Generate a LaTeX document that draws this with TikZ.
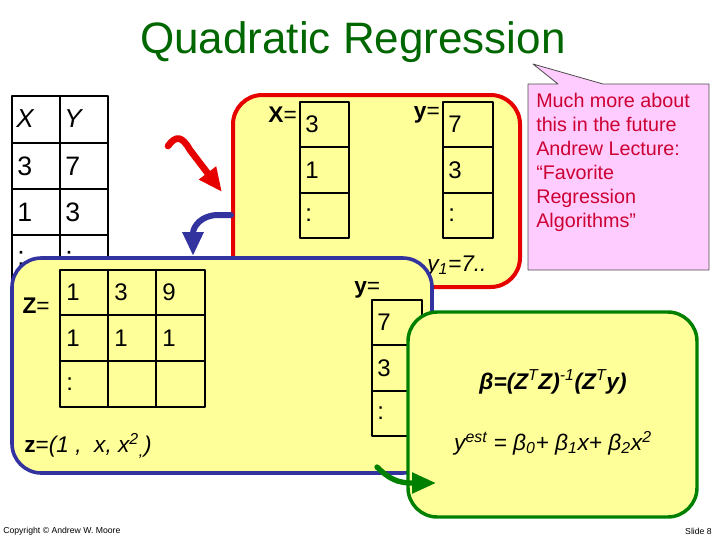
\documentclass[tikz,border=0pt]{standalone}
\usepackage{fontspec}
\setmainfont{Liberation Sans}
\usetikzlibrary{arrows.meta,fit}
\definecolor{padyellow}{RGB}{255,255,153}
\definecolor{titlegreen}{RGB}{0,102,0}
\definecolor{boxgreen}{RGB}{0,128,0}
\definecolor{boxblue}{RGB}{51,51,160}
\definecolor{boxred}{RGB}{230,0,0}
\definecolor{notepink}{RGB}{255,204,255}
\definecolor{notered}{RGB}{204,0,51}
\newcommand{\fs}[1]{\fontsize{#1}{1.2\dimexpr#1pt\relax}\selectfont}
\begin{document}
\begin{tikzpicture}[x=.75pt, y=-.75pt, line join=round, line cap=round,
	box/.style={rounded corners=22pt, fill=padyellow, inner sep=0pt},
	grid/.style={line width=2.2pt, line cap=rect},
	cell/.style={anchor=west, inner sep=0pt, font=\fs{18}},
	lbl/.style={inner sep=0pt, font=\fs{17}},
	bigarrow/.style={line width=#1, -{Triangle[length=18pt,width=15pt]}}]
	\useasboundingbox (0,0) rectangle (720,540);
	\node[text=titlegreen, font=\fs{33}] (title) at (353,42) {Quadratic Regression};
	%% data table
	\draw[grid] (12,282) |- (108,96) -- (108,282) (60,96) -- (60,282)
	(12,143) -- (108,143) (12,189) -- (108,189) (12,235) -- (108,235);
	\node[cell, font=\fs{19.5}\itshape] (hx) at (16,119) {X};
	\node[cell, font=\fs{19.5}\itshape] (hy) at (64,119) {Y};
	\foreach \a/\b [count=\r] in {3/7, 1/3, :/:} {
		\node[cell, font=\fs{20}] (tx\r) at (17,{120+46.3*\r}) {\a};
		\node[cell, font=\fs{20}] (ty\r) at (65,{120+46.3*\r}) {\b};
	}
	%% red box
	\node[box, draw=boxred, line width=3pt, fit={(233,95) (520,287)}] (xbox) {};
	\node[lbl, anchor=east] (xeq) at (297,115) {\textbf{X}=};
	\node[lbl, anchor=east] (yeq) at (440,115) {\textbf{y}=};
	\draw[grid] (300,102) rectangle (349,238) (300,147) -- (349,147) (300,193) -- (349,193);
	\draw[grid] (443,102) rectangle (493,238) (443,147) -- (493,147) (443,193) -- (493,193);
	\foreach \a/\b [count=\r] in {3/7, 1/3, :/:} {
		\node[cell] (xv\r) at (305,{124.5+45.3*(\r-1)}) {\a};
		\node[cell] (yv\r) at (448,{124.5+45.3*(\r-1)}) {\b};
	}
	\node[lbl, anchor=west, font=\fs{17}\itshape] (yone) at (427,266) {y\textsubscript{1}=7..};
	\coordinate (redtail) at (168,146);
	\coordinate (redtip) at (222,192);
	\draw[boxred, bigarrow=5pt] (redtail) .. controls (176,135) and (182,136) .. (190,150) -- (redtip);
	%% blue box
	\node[box, draw=boxblue, line width=2.7pt, fit={(12,258) (432,473)}] (zbox) {};
	\node[lbl, anchor=east] (zeq) at (50,306) {\textbf{Z}=};
	\draw[grid] (60,270) rectangle (205,407) (108,270) -- (108,407) (156,270) -- (156,407)
	(60,315) -- (205,315) (60,361) -- (205,361);
	\foreach \a/\b/\c [count=\r] in {1/3/9, 1/1/1} {
		\node[cell] (za\r) at (66,{292.5+45.5*(\r-1)}) {\a};
		\node[cell] (zb\r) at (114,{292.5+45.5*(\r-1)}) {\b};
		\node[cell] (zc\r) at (162,{292.5+45.5*(\r-1)}) {\c};
	}
	\node[cell] (za3) at (66,384) {:};
	\node[lbl, anchor=west] (zdef) at (24,446) {\textbf{z}=\textit{(1 ,\ \ x, x\textsuperscript{2}\textsubscript{,})}};
	\node[lbl, anchor=west] (yeqb) at (354,290) {\textbf{y}=};
	\draw[grid] (372,300) rectangle (422,436) (372,345) -- (422,345) (372,391) -- (422,391);
	\foreach \a [count=\r] in {7,3,:}
		\node[cell] (yb\r) at (377,{322.5+45.5*(\r-1)}) {\a};
	\coordinate (bluetail) at (xbox.west |- 0,215);
	\coordinate (bluetip) at (193,256);
	\draw[boxblue, bigarrow=4.5pt] (bluetail) -- (218,215) .. controls (202,215) and (193,226) .. (bluetip);
	%% green box
	\node[box, draw=boxgreen, line width=2.6pt, fit={(408,312) (697,517)}] (bbox) {};
	\node[lbl, font=\fs{17}\bfseries\itshape] (beta) at (553,382)
	{β=(Z\textsuperscript{\mdseries T}Z)\textsuperscript{\mdseries -1}(Z\textsuperscript{\mdseries T}y)};
	\node[lbl, font=\fs{17}\itshape] (yest) at (553,443)
	{y\textsuperscript{est} = β\textsubscript{0}+ β\textsubscript{1}x+ β\textsubscript{2}x\textsuperscript{2}};
	\coordinate (greentail) at (377,467);
	\coordinate (greentip) at (436,483);
	\draw[boxgreen, bigarrow=4pt] (greentail) .. controls (389,479) and (398,483) .. (412,483) -- (greentip);
	%% note
	\draw[fill=notepink, draw=black!70, line width=.6pt] (528,84) -- (558,84) -- (533,64) -- (603,84)
	-- (709,84) -- (709,270) -- (528,270) -- cycle;
	\node[anchor=north west, inner sep=0pt, align=left, text=notered, font=\fontsize{14.8}{18}\selectfont] (note) at (536,93)
	{Much more about\\this in the future\\Andrew Lecture:\\“Favorite\\Regression\\Algorithms”};
	\node[anchor=west, inner sep=0pt, font=\fs{6.5}] (copy) at (3,531) {Copyright © Andrew W. Moore};
	\node[anchor=east, inner sep=0pt, font=\fs{6.5}] (slide) at (712,531) {Slide 8};
\end{tikzpicture}
\end{document}
